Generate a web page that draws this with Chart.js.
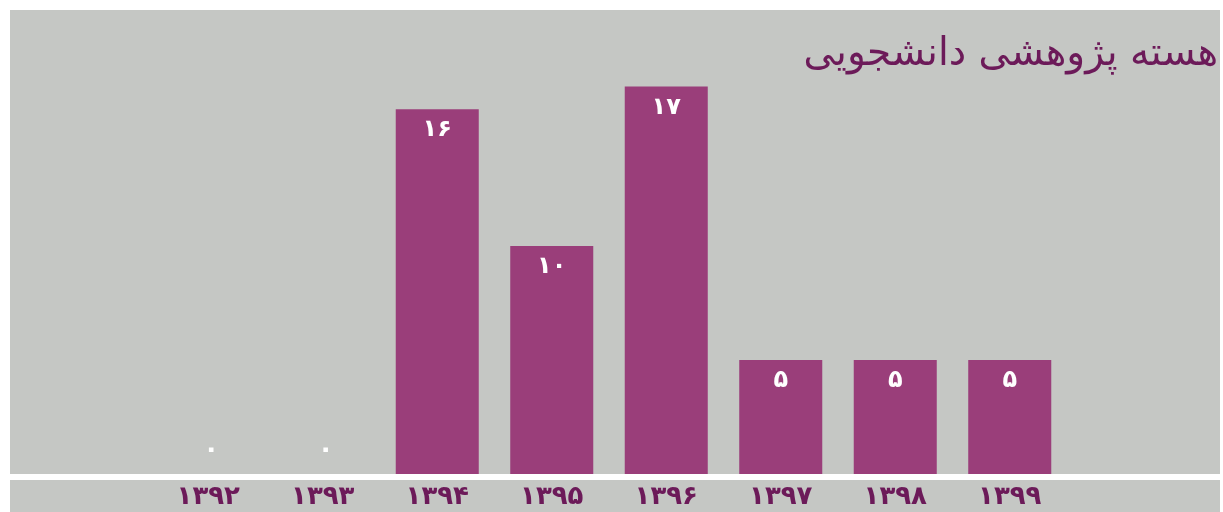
<!DOCTYPE html>
<html lang="fa">
<head>
<meta charset="utf-8">
<script src="https://cdn.jsdelivr.net/npm/chart.js@4.4.1/dist/chart.umd.min.js"></script>
<style>
  html, body { margin: 0; padding: 0; background: #ffffff; width: 1223px; height: 512px; overflow: hidden; }
  .panel { position: absolute; background: #c5c7c4; }
  #top { left: 10px; top: 10px; width: 1210px; height: 464px; }
  #bottom { left: 10px; top: 480px; width: 1210px; height: 32px; }
  #wrap { position: absolute; left: 0; top: 0; width: 1223px; height: 512px; }
</style>
</head>
<body>
<div class="panel" id="top"></div>
<div class="panel" id="bottom"></div>
<div id="wrap"><canvas id="c" width="1223" height="512"></canvas></div>
<script>
const titleText = "هسته پژوهشی دانشجویی";
const categories = ["۱۳۹۲", "۱۳۹۳", "۱۳۹۴", "۱۳۹۵", "۱۳۹۶", "۱۳۹۷", "۱۳۹۸", "۱۳۹۹"];
const values = [0, 0, 16, 10, 17, 5, 5, 5];
const valueLabels = ["۰", "۰", "۱۶", "۱۰", "۱۷", "۵", "۵", "۵"];

const BAR = "#9a3e7a";
const TEXT = "#6c1a59";
const FONT = "'DejaVu Sans', sans-serif";

const titlePlugin = {
  id: 'rtlTitle',
  afterDraw(chart) {
    const ctx = chart.ctx;
    ctx.save();
    ctx.font = "39px " + FONT;
    ctx.fillStyle = TEXT;
    ctx.direction = 'rtl';
    ctx.textAlign = 'right';
    ctx.textBaseline = 'middle';
    ctx.fillText(titleText, 1218, 55);
    ctx.restore();
  }
};

const labelPlugin = {
  id: 'barLabels',
  afterDatasetsDraw(chart) {
    const ctx = chart.ctx;
    const meta = chart.getDatasetMeta(0);
    ctx.save();
    ctx.fillStyle = '#ffffff';
    ctx.textAlign = 'center';
    ctx.textBaseline = 'middle';
    meta.data.forEach((bar, i) => {
      const v = values[i];
      if (v === 0) {
        ctx.font = "bold 26px " + FONT;
        ctx.fillText(valueLabels[i], bar.x + 3, bar.base - 24);
      } else {
        ctx.font = "bold 24px " + FONT;
        ctx.fillText(valueLabels[i], bar.x, bar.y + 21);
      }
    });
    ctx.restore();
  }
};

new Chart(document.getElementById('c'), {
  type: 'bar',
  data: {
    labels: categories,
    datasets: [{
      data: values,
      backgroundColor: BAR,
      borderWidth: 0,
      categoryPercentage: 1.0,
      barPercentage: 0.725
    }]
  },
  options: {
    responsive: false,
    animation: false,
    devicePixelRatio: 1,
    layout: { padding: { left: 151, right: 156, top: 18, bottom: 0 } },
    plugins: {
      legend: { display: false },
      tooltip: { enabled: false },
      title: { display: false }
    },
    scales: {
      x: {
        grid: { display: false, drawTicks: false },
        border: { display: false },
        afterFit(axis) { axis.height = 38; },
        ticks: {
          color: TEXT,
          font: { family: FONT, size: 26, weight: 'bold' },
          padding: 8
        }
      },
      y: {
        display: false,
        min: 0,
        max: 20
      }
    }
  },
  plugins: [titlePlugin, labelPlugin]
});
</script>
</body>
</html>
